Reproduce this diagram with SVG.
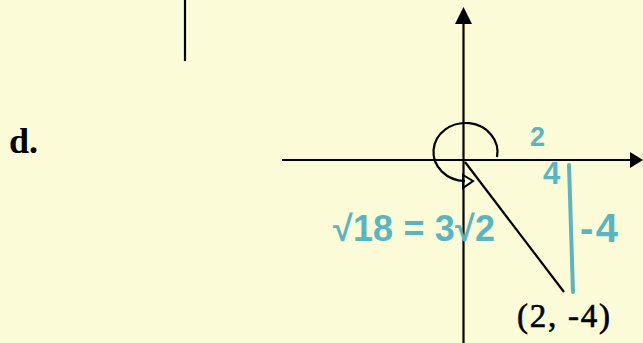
<svg xmlns="http://www.w3.org/2000/svg" width="643" height="343" viewBox="0 0 643 343">
<style>
.ax{stroke:#000;stroke-width:2.2;fill:none}
.hw{fill:#5BB5C0;font-family:"Liberation Sans",sans-serif;font-weight:bold}
.tm{fill:#000;font-family:"Liberation Serif",serif}
</style>
<rect width="643" height="343" fill="#FBFBD8"/>
<g id="divider"><line x1="185" y1="0" x2="185" y2="61" class="ax"/></g>
<g id="label-d"><text x="9" y="153" class="tm" font-size="36" font-weight="bold">d.</text></g>
<g id="axes">
<line x1="282" y1="160" x2="632" y2="160" class="ax"/>
<polygon points="630,152 643,160 630,168" fill="#000"/>
<line x1="463.5" y1="20" x2="463.5" y2="343" class="ax"/>
<polygon points="455,24 463.5,7 472,24" fill="#000"/>
</g>
<g id="angle">
<path d="M497,157 A32,29 0 1 0 465,181" class="ax"/>
<polygon points="463,175 473,181 463,188" fill="none" stroke="#000" stroke-width="2"/>
</g>
<g id="terminal"><line x1="465" y1="162" x2="564" y2="292" class="ax" stroke-width="2.5"/></g>
<g id="teal">
<line x1="569" y1="165" x2="573" y2="292" stroke="#5BB5C0" stroke-width="4" stroke-linecap="round"/>
<text x="530" y="146" class="hw" font-size="27">2</text>
<text x="543" y="184" class="hw" font-size="31">4</text>
<text x="580" y="242" class="hw" font-size="40" textLength="38">-4</text>
<text x="333" y="241" class="hw" font-size="36" textLength="162">√18 = 3√2</text>
</g>
<g id="point"><text x="517" y="327" class="tm" font-size="33" stroke="#000" stroke-width="0.6" textLength="93">(2, -4)</text></g>
</svg>
